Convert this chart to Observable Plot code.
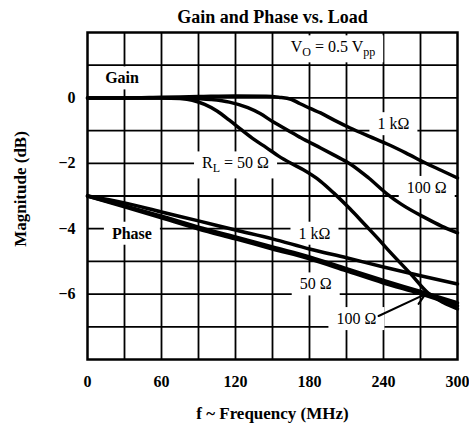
<!DOCTYPE html>
<html>
<head>
<meta charset="utf-8">
<script src="https://cdn.jsdelivr.net/npm/d3@7"></script>
<script src="https://cdn.jsdelivr.net/npm/@observablehq/plot@0.6"></script>
<style>
  html, body { margin: 0; padding: 0; background: white; }
</style>
</head>
<body>
<script>
// ---- data (frequency MHz, magnitude dB) ----
const freqTicks = [0, 60, 120, 180, 240, 300];
const magTicks = [0, -2, -4, -6];
const gridFreq = [30, 60, 90, 120, 150, 180, 210, 240, 270];
const gridMag = [-7, -6, -5, -4, -3, -2, -1, 0, 1];

const gain1k = [[0,0],[30,0],[60,0.02],[90,0.04],[120,0.06],[145,0.05],[155,0.02],[165,-0.04],[172,-0.17],[181,-0.33],[189,-0.46],[200,-0.68],[213,-0.92],[228,-1.17],[243,-1.41],[258,-1.68],[274,-1.99],[287,-2.22],[300,-2.45]];
const gain100 = [[0,0],[60,0],[80,-0.01],[100,-0.05],[115,-0.13],[130,-0.3],[140,-0.48],[150,-0.72],[162,-0.98],[173,-1.22],[189,-1.53],[200,-1.75],[213,-2.02],[228,-2.45],[243,-2.94],[254,-3.24],[274,-3.67],[287,-3.92],[300,-4.13]];
const gain50 = [[0,0],[60,0],[75,-0.02],[85,-0.07],[95,-0.2],[105,-0.4],[115,-0.68],[125,-0.98],[135,-1.27],[145,-1.52],[155,-1.78],[165,-2.0],[175,-2.2],[189,-2.55],[200,-2.92],[213,-3.4],[225,-3.88],[235,-4.28],[245,-4.7],[262,-5.38],[276,-5.96],[288,-6.25],[300,-6.45]];
const phase1k = [[0,-3.0],[30,-3.21],[60,-3.49],[90,-3.76],[120,-4.04],[150,-4.31],[180,-4.62],[210,-4.89],[240,-5.17],[270,-5.44],[300,-5.69]];
const phase50 = [[0,-3.0],[30,-3.33],[60,-3.67],[90,-4.01],[120,-4.31],[150,-4.62],[180,-4.92],[210,-5.29],[240,-5.66],[270,-5.99],[300,-6.36]];
const phase100 = [[0,-3.0],[30,-3.30],[60,-3.62],[90,-3.95],[120,-4.25],[150,-4.56],[180,-4.86],[210,-5.22],[240,-5.58],[270,-5.92],[300,-6.27]];

const seriesNames = ["gain 1k", "gain 100", "gain 50", "phase 1k", "phase 50", "phase 100"];
const seriesData = [gain1k, gain100, gain50, phase1k, phase50, phase100];

// annotations
const noteText = ["V{O} = 0.5 V{pp}", "R{L} = 50 Ω", "1 kΩ", "100 Ω", "1 kΩ", "50 Ω", "100 Ω"];
const noteF = [199, 120, 248, 275, 184, 185, 218];
const noteDb = [1.55, -2.0, -0.8, -2.75, -4.15, -5.7, -6.76];
const boldText = ["Gain", "Phase"];
const boldF = [28, 36];
const boldDb = [0.6, -4.15];
const arrowFrom = [236, -6.67];
const arrowTo = [274, -6.0];

const rows = seriesData.flatMap((s, i) => s.map(([f, db]) => ({series: seriesNames[i], f, db})));

const serif = "'Liberation Serif', 'Times New Roman', serif";

const chart = Plot.plot({
  width: 469,
  height: 425,
  marginLeft: 87,
  marginRight: 12,
  marginTop: 32,
  marginBottom: 66,
  style: {fontFamily: serif, fontSize: "16px", fontWeight: "bold", color: "black", background: "white", overflow: "visible"},
  x: {domain: [0, 300], ticks: freqTicks, tickSize: 0, tickPadding: 16, label: null},
  y: {domain: [-8, 2], ticks: magTicks, tickSize: 0, tickPadding: 12, label: null,
      tickFormat: d => d < 0 ? "\u2212" + (-d) : String(d)},
  marks: [
    Plot.ruleX(gridFreq, {stroke: "black", strokeWidth: 1.8}),
    Plot.ruleY(gridMag, {stroke: "black", strokeWidth: 1.8}),
    Plot.text(noteText.map((_, i) => i), {
      x: i => noteF[i], y: i => noteDb[i], text: i => noteText[i],
      fontSize: 16, fontWeight: "normal", fill: "black"
    }),
    Plot.text(boldText.map((_, i) => i), {
      x: i => boldF[i], y: i => boldDb[i], text: i => boldText[i],
      fontSize: 16, fontWeight: "bold", fill: "black"
    }),
    Plot.line(rows, {x: "f", y: "db", z: "series", stroke: "black", strokeWidth: 3.5, curve: "monotone-x"}),
    Plot.arrow([0], {x1: () => arrowFrom[0], y1: () => arrowFrom[1], x2: () => arrowTo[0], y2: () => arrowTo[1],
      stroke: "black", strokeWidth: 2, headLength: 9}),
    Plot.frame({stroke: "black", strokeWidth: 2.5}),
    Plot.text(["Gain and Phase vs. Load"], {frameAnchor: "top", lineAnchor: "middle", textAnchor: "middle", dy: -15, fontWeight: "bold", fontSize: 18}),
    Plot.text(["Magnitude (dB)"], {frameAnchor: "left", lineAnchor: "middle", textAnchor: "middle", dx: -67, dy: -7, rotate: -90, fontWeight: "bold", fontSize: 17}),
    Plot.text(["f ~ Frequency (MHz)"], {frameAnchor: "bottom", lineAnchor: "middle", textAnchor: "middle", dy: 54, fontWeight: "bold", fontSize: 17})
  ]
});

document.body.append(chart);

// subscripts and white label boxes
const NS = "http://www.w3.org/2000/svg";
const allNotes = new Set([...noteText, ...boldText]);
const noteEls = Array.from(chart.querySelectorAll("text")).filter(t => allNotes.has(t.textContent));
noteEls.forEach(t => {
  const s = t.textContent;
  if (s.includes("{")) {
    while (t.firstChild) t.removeChild(t.firstChild);
    const parts = s.split(/(\{[^}]*\})/).filter(p => p.length);
    let sub = false;
    parts.forEach(p => {
      const ts = document.createElementNS(NS, "tspan");
      if (p.startsWith("{")) {
        ts.textContent = p.slice(1, -1);
        ts.setAttribute("font-size", "12");
        ts.setAttribute("dy", "4");
        sub = true;
      } else {
        ts.textContent = p;
        if (sub) ts.setAttribute("dy", "-4");
        sub = false;
      }
      t.appendChild(ts);
    });
  }
});
const rootInv = chart.getScreenCTM().inverse();
noteEls.forEach(t => {
  const b = t.getBBox();
  const m = rootInv.multiply(t.getScreenCTM());
  const p0 = new DOMPoint(b.x, b.y).matrixTransform(m);
  const p1 = new DOMPoint(b.x + b.width, b.y + b.height).matrixTransform(m);
  const r = document.createElementNS(NS, "rect");
  r.setAttribute("x", Math.min(p0.x, p1.x) - 8);
  r.setAttribute("y", Math.min(p0.y, p1.y) - 3);
  r.setAttribute("width", Math.abs(p1.x - p0.x) + 16);
  r.setAttribute("height", Math.abs(p1.y - p0.y) + 6);
  r.setAttribute("fill", "white");
  const g = t.parentNode;
  g.parentNode.insertBefore(r, g);
});
</script>
</body>
</html>
